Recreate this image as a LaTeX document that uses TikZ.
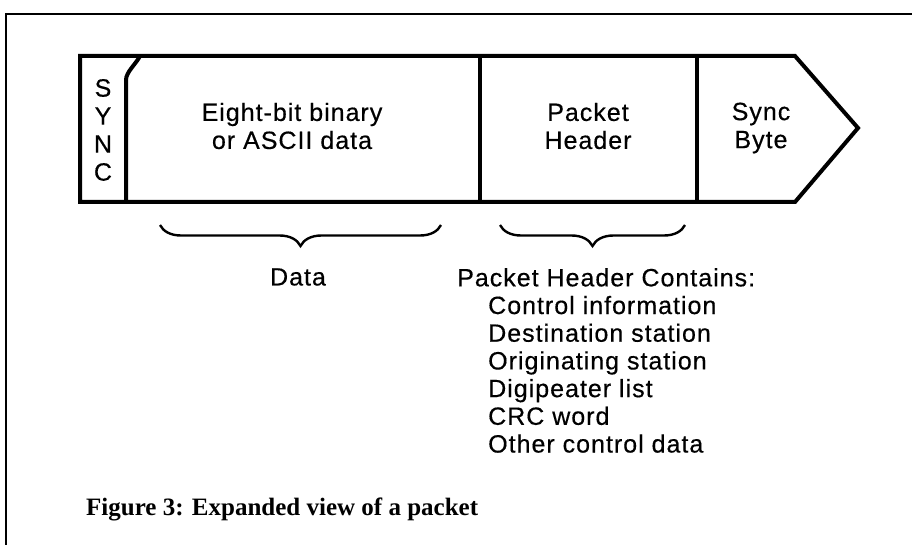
\documentclass[tikz,border=0pt]{standalone}
\usepackage{fontspec}
\usetikzlibrary{decorations.pathreplacing}
\newfontfamily\labfont[LetterSpace=4,FakeBold=0.4]{Liberation Sans}
\newfontfamily\capfont{Liberation Serif}
\begin{document}
\begin{tikzpicture}[x=1pt,y=-1pt,
  frame/.style={line width=2.2pt},
  packet/.style={line width=4pt,line join=miter},
  lab/.style={font=\labfont\fontsize{25}{28}\selectfont,align=center,inner sep=0pt},
  listtxt/.style={font=\labfont\fontsize{25}{27.7}\selectfont,align=left,anchor=north west,inner sep=0pt},
  brc/.style={line width=2.4pt,decorate,decoration={brace,mirror,amplitude=21pt}}]
\useasboundingbox (0,0) rectangle (912,545);
\fill[white] (0,0) rectangle (912,545);
% outer frame (left and top edges only)
\draw[frame] (6,545) -- (6,14) -- (912,14);
% packet outline with arrow-shaped end
\draw[packet] (80,56) -- (795,56) -- (858,128) -- (795,202) -- (80,202) -- cycle;
% field separators
\draw[packet] (126,202) -- (126,80) .. controls (126,72) and (136,64) .. (140,56);
\draw[packet] (480,56) -- (480,202);
\draw[packet] (697,56) -- (697,202);
% field labels
\node[lab] (sync) at (103,130) {S\\Y\\N\\C};
\node[lab] (data) at (292,126) {Eight-bit binary\\or ASCII data};
\node[lab] (hdr) at (588,126) {Packet\\Header};
\node[lab] (sbyte) at (761,128) {Sync\\Byte};
% braces under the fields
\coordinate (d1) at (160,225);
\coordinate (d2) at (441,225);
\coordinate (h1) at (500,225);
\coordinate (h2) at (685,225);
\draw[brc] (d1) -- (d2);
\draw[brc] (h1) -- (h2);
\node[lab] (dlab) at (298,277) {Data};
\node[listtxt] (hlist) at (457,268) {Packet Header Contains:\\
\hspace*{31pt}Control information\\
\hspace*{31pt}Destination station\\
\hspace*{31pt}Originating station\\
\hspace*{31pt}Digipeater list\\
\hspace*{31pt}CRC word\\
\hspace*{31pt}Other control data};
% caption
\node[font=\capfont\bfseries\fontsize{25}{28}\selectfont,anchor=west,inner sep=0pt] (cap) at (86,509) {Figure 3: Expanded view of a packet};
\end{tikzpicture}
\end{document}
